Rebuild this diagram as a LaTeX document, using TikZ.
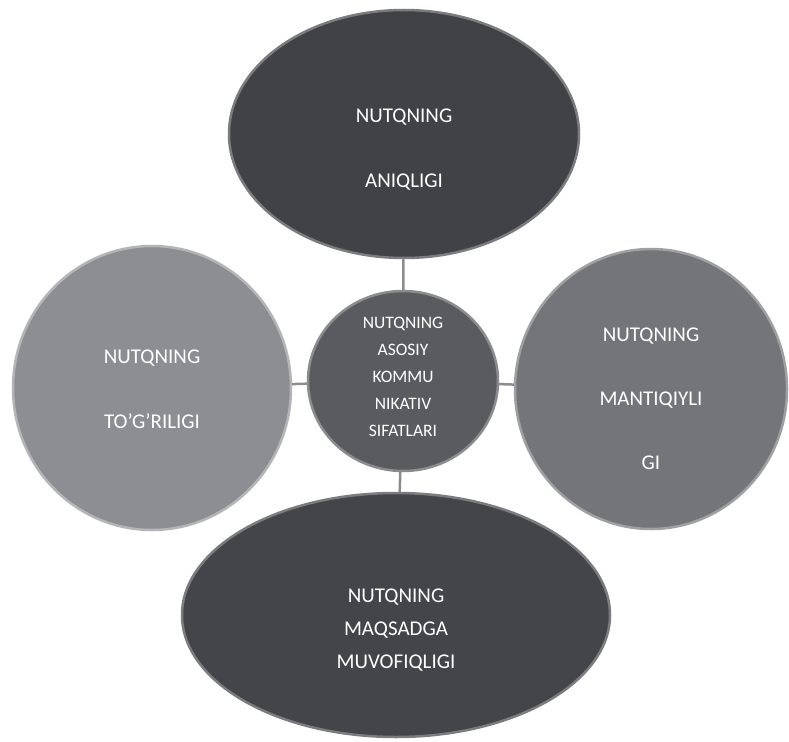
\documentclass[tikz,border=0pt]{standalone}
\usepackage{fontspec}
\setmainfont{Carlito}
\usetikzlibrary{shapes.geometric}
\definecolor{darkA}{HTML}{404245}
\definecolor{darkB}{HTML}{434548}
\definecolor{midC}{HTML}{595B5E}
\definecolor{lightL}{HTML}{8D8E91}
\definecolor{midR}{HTML}{737578}
\definecolor{rimA}{HTML}{7A7C80}
\definecolor{rimL}{HTML}{B4B5B8}
\definecolor{rimR}{HTML}{9FA0A3}
\definecolor{rimC}{HTML}{8A8C8F}
\definecolor{linkc}{HTML}{8C8C8C}
\tikzset{
  blob/.style={ellipse, inner sep=0pt, line width=2.5pt},
  bigtxt/.style={text=white, align=center, font=\fontsize{21}{25}\selectfont},
  midtxt/.style={text=white, align=center, font=\fontsize{17.5}{27}\selectfont},
  link/.style={draw=linkc, line width=2.5pt}
}
\begin{document}
\begin{tikzpicture}[x=1pt,y=-1pt]
\useasboundingbox[fill=white] (0,0) rectangle (789,741);
% links first (behind shapes)
\node[blob, fill=darkA, draw=rimA, minimum width=350pt, minimum height=248pt,
  label={[bigtxt, yshift=-16pt]center:NUTQNING\\[40pt]ANIQLIGI}] (top) at (404,134) {};
\node[blob, fill=lightL, draw=rimL, minimum width=278pt, minimum height=284pt,
  label={[bigtxt, yshift=-1pt]center:NUTQNING\\[40pt]TO’G’RILIGI}] (left) at (152,388) {};
\node[blob, fill=midR, draw=rimR, minimum width=272pt, minimum height=280pt,
  label={[bigtxt, yshift=-10pt]center:NUTQNING\\[39pt]MANTIQIYLI\\[39pt]GI}] (right) at (651,389) {};
\node[blob, fill=darkB, draw=rimA, minimum width=428pt, minimum height=244pt,
  label={[bigtxt, yshift=-15pt, font=\fontsize{21}{33}\selectfont]center:NUTQNING\\MAQSADGA\\MUVOFIQLIGI}] (bottom) at (396,615) {};
\node[blob, fill=midC, draw=rimC, minimum width=190pt, minimum height=180pt,
  label={[midtxt, yshift=4pt]center:NUTQNING\\ASOSIY\\KOMMU\\NIKATIV\\SIFATLARI}] (core) at (403,381) {};
\draw[link] (core) -- (top);
\draw[link] (core) -- (left);
\draw[link] (core) -- (right);
\draw[link] (core) -- (bottom);
\end{tikzpicture}
\end{document}
